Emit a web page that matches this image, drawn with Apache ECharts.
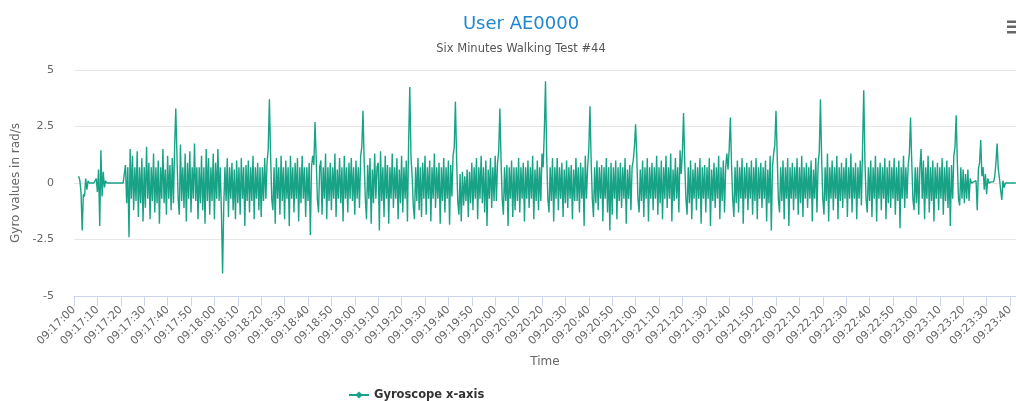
<!DOCTYPE html>
<html>
<head>
<meta charset="utf-8">
<script src="https://cdn.jsdelivr.net/npm/echarts@6/dist/echarts.min.js"></script>
<style>
html,body{margin:0;padding:0;background:#fff;}
#chart{width:1016px;height:401px;}
</style>
</head>
<body>
<div id="chart"></div>
<script>
const titleText = 'User AE0000';
const subtitleText = 'Six Minutes Walking Test #44';
const seriesName = 'Gyroscope x-axis';
const xAxisName = 'Time';
const yAxisName = 'Gyro values in rad/s';
const startClock = [9, 17, 0];      // 09:17:00
const sampleStepSeconds = 0.5;      // one value every half second
const xTickSeconds = 10;
const xMaxSeconds = 402.5;
const yMin = -5, yMax = 5, yStep = 2.5;

// Gyroscope x-axis readings (rad/s), one per 0.5 s from 09:17:00
const gyroX = [
  null,null,null,null,0.3,0.1,-0.4,-2.1,-0.5,-0.6,0.2,-0.3,0.1,0,0,0,0,0,0,0.2,
  -0.4,0.6,-1.9,1.45,-0.6,0.5,-0.2,0.1,0,0,0,0,0,0,0,0,0,0,0,0,
  0,0,0,0,0.8,-0.9,0.7,-2.4,1.5,-0.7,1.2,-1.2,0.7,-0.8,1.4,-1.5,0.7,-0.9,1.1,-1.7,
  0.7,-1.1,1.6,-0.7,0.9,-1.6,0.7,-0.8,1.3,-1.3,0.7,-0.9,1.0,-1.8,0.7,-0.7,1.5,-0.9,0.6,-1.4,
  1.2,-0.7,0.8,-1.2,1.1,-0.9,1.6,3.3,1.2,-0.7,-1.4,1.7,-0.8,0.7,-1.1,1.3,-1.7,0.9,-0.7,1.4,
  -1.3,0.7,-0.7,1.75,-0.8,0.7,-1.6,0.7,-0.9,1.2,-1.2,0.7,-1.8,1.5,-0.8,1.1,-1.4,0.7,-0.8,1.3,
  -1.6,0.9,-0.7,1.5,-0.8,0.7,-1.3,-4.0,-1.0,0.7,-0.8,1.1,-1.5,0.7,-0.7,0.9,-1.2,0.6,-1.6,1.0,
  -0.9,0.7,-1.4,1.1,-0.7,0.7,-1.9,0.8,-0.8,1.0,-1.3,0.7,-0.8,1.2,-1.6,0.7,-0.7,0.9,-1.2,0.7,
  -1.5,0.7,-0.8,1.1,-0.7,0.9,1.5,3.7,1.3,-0.7,-1.2,0.7,-1.8,1.1,-0.7,0.7,-1.4,1.2,-0.8,0.7,
  -1.6,1.0,-0.7,0.7,-1.9,1.2,-0.7,0.7,-1.3,0.9,-0.7,1.1,-1.7,0.7,-0.9,1.2,-0.7,0.7,-1.5,0.7,
  -0.8,0.9,-2.3,0.7,1.2,0.8,2.7,1.1,-0.7,-1.3,0.7,1.0,-1.4,0.7,-0.7,1.3,-1.6,0.7,-0.8,0.9,
  -1.2,0.7,-0.7,1.3,-1.5,0.6,-0.7,1.1,-0.9,0.7,-1.7,1.2,-0.7,0.7,-1.3,0.9,-0.7,1.1,-0.8,0.7,
  -1.4,1.0,-0.7,0.7,-1.1,1.2,1.6,3.2,1.0,-0.7,-1.6,0.8,-0.7,1.1,-1.8,0.6,-0.9,1.3,-0.7,0.7,
  0.9,-2.1,1.4,-0.8,0.7,-1.5,1.2,-0.7,0.8,-1.8,0.7,-0.7,1.3,-1.1,0.7,-0.7,1.1,-1.6,0.6,-0.9,
  1.2,-1.3,0.7,-0.7,1.0,-1.7,1.8,4.25,1.2,0.3,-1.0,-1.6,0.7,-0.8,1.1,-1.2,0.7,-1.5,0.9,-0.7,
  1.2,-1.4,0.7,-0.7,1.0,-1.7,0.7,-0.7,1.3,-1.1,0.7,-0.7,0.9,-1.8,0.7,-0.8,1.1,-1.3,0.7,-0.7,
  1.0,-1.85,0.8,-0.6,1.2,1.6,3.6,1.1,-0.8,-1.4,0.4,-1.7,0.5,-1.0,0.3,-0.8,0.6,-1.5,0.5,-0.9,
  0.9,-1.2,0.7,-0.7,1.1,-1.6,0.7,-0.7,1.2,-0.9,0.7,-1.3,1.0,-1.9,0.6,-0.7,1.1,-1.1,0.7,-0.8,
  1.2,-0.8,0.9,1.4,3.3,1.0,-0.7,-1.4,0.7,-0.8,0.8,-1.9,0.7,-0.7,1.0,-1.5,0.7,-1.2,0.7,-0.8,
  1.1,-1.3,0.7,-0.7,0.9,-1.7,0.7,-0.7,1.0,-1.1,0.7,-0.7,1.2,-1.6,0.6,-0.8,1.0,-1.2,0.7,-0.8,
  1.3,0.7,2.3,4.5,1.2,-0.7,-1.3,0.7,-0.8,1.1,-1.7,0.7,-0.7,1.1,-1.2,0.7,-0.7,0.9,-1.5,0.6,
  -0.9,1.0,-1.1,0.7,-0.7,0.8,-1.6,0.6,-0.8,1.1,-0.8,0.7,-1.3,0.9,-0.7,0.7,-1.9,1.2,-0.7,0.7,
  1.5,3.4,1.0,-0.7,-1.5,0.7,-0.9,1.0,-1.2,0.7,-0.7,0.8,-1.7,0.7,-0.7,1.1,-1.3,0.7,-2.1,0.9,
  -1.4,0.7,-0.7,1.0,-1.6,0.7,-0.8,0.9,-1.1,0.7,-0.7,1.1,-1.8,0.6,-0.7,0.8,-1.2,0.7,1.0,1.6,
  2.6,1.2,-0.7,-1.3,0.6,-0.8,1.0,-1.5,0.7,-0.7,1.1,-1.7,0.7,-0.7,0.9,-1.2,0.7,-0.7,1.2,-1.4,
  0.7,-0.9,1.0,-1.6,0.7,-0.7,1.2,-1.1,0.7,-0.7,1.3,-1.7,0.6,-0.8,1.1,-0.7,0.7,-1.3,1.45,0.4,
  1.4,3.1,0.9,-0.7,-1.4,0.7,-0.9,1.0,-1.6,0.6,-0.7,0.9,-1.2,0.7,-0.7,1.1,-1.8,0.7,-0.7,0.8,
  -1.3,0.7,-0.7,1.1,-1.9,0.6,-0.8,0.9,-1.1,0.7,-0.7,1.2,-1.6,0.7,-0.8,1.0,-1.3,0.7,1.3,0.6,
  1.5,2.9,0.8,-0.7,-1.5,0.7,-0.9,1.0,-1.3,0.7,-0.7,1.1,-1.8,0.7,-0.7,0.9,-1.2,0.7,-0.7,1.0,
  -1.4,0.7,-0.8,1.1,-1.6,0.7,-0.7,0.9,-1.1,0.7,-0.7,1.0,-1.7,0.6,-0.9,1.2,-2.1,0.7,1.3,1.7,
  3.2,1.3,-0.7,-1.3,0.7,-0.8,1.0,-1.6,0.7,-0.7,1.1,-1.9,0.7,-0.7,0.9,-1.2,0.7,-0.7,1.1,-1.4,
  0.7,-0.9,1.2,-1.5,0.7,-0.7,0.9,-1.1,0.7,-0.7,1.0,-1.7,0.6,-0.7,1.1,-1.3,0.8,1.4,3.7,1.1,
  -0.7,-1.4,0.7,-0.8,1.3,-1.7,0.7,-0.7,1.0,-1.2,0.7,-0.7,1.2,-1.6,0.7,-0.8,0.9,-1.1,0.7,-0.7,
  1.1,-1.5,0.7,-0.7,1.3,-1.3,0.7,-0.7,0.9,-1.6,0.7,-0.7,1.0,-1.0,1.6,4.1,1.0,-0.7,-1.3,0.7,
  -0.8,1.0,-1.5,0.7,-0.7,1.2,-1.7,0.7,-0.7,0.9,-1.2,0.7,-0.7,1.1,-1.6,0.7,-0.9,1.0,-1.1,0.7,
  -0.7,1.1,-1.4,0.7,-0.8,1.0,-2.0,0.7,-0.7,1.2,-1.1,0.7,-0.7,0.8,1.3,2.9,1.0,-0.7,-1.2,0.7,
  -0.9,0.7,-1.4,0.7,1.5,-0.7,1.0,-1.6,0.7,-0.7,1.2,-1.3,0.7,-0.8,1.0,-1.7,0.7,-0.7,0.9,-1.2,
  0.7,-0.7,1.1,-1.4,0.7,-0.8,1.0,-1.1,0.7,-1.9,0.8,-0.7,1.2,1.6,3.0,0.9,-0.7,-1.0,0.7,-0.7,
  0.6,-0.9,0.4,-0.7,0.6,-0.8,0.2,0.0,0.05,0.05,0.0,0.1,-1.2,0.6,0.9,1.9,0.3,0.7,-0.3,0.4,
  -0.5,0.2,0.0,0.05,0.05,0.0,0.05,0.3,0.9,1.75,0.6,0.2,-0.3,-0.75,0.1,-0.2,0,0,0,0,
  0,0,0,0,0,0
];

function pad(n){ return (n < 10 ? '0' : '') + n; }
function clockLabel(sec){
  const total = startClock[0]*3600 + startClock[1]*60 + startClock[2] + Math.round(sec);
  const h = Math.floor(total/3600), m = Math.floor((total%3600)/60), s = total%60;
  return pad(h)+':'+pad(m)+':'+pad(s);
}

const seriesData = gyroX.map((v, i) => [i*sampleStepSeconds, v]);
const FONT = 'DejaVu Sans';

const chart = echarts.init(document.getElementById('chart'), null, {renderer:'canvas'});
chart.setOption({
  animation: false,
  backgroundColor: '#ffffff',
  textStyle: { fontFamily: FONT },
  title: [
    { text: titleText, left: 516, top: 10, textAlign: 'center',
      textStyle: { color: '#1f87cc', fontSize: 18, fontWeight: 'normal', fontFamily: FONT } },
    { text: subtitleText, left: 516, top: 38, textAlign: 'center',
      textStyle: { color: '#555555', fontSize: 11.5, fontWeight: 'normal', fontFamily: FONT } }
  ],
  legend: {
    left: 343, top: 384, itemWidth: 20, itemHeight: 9,
    data: [seriesName],
    textStyle: { color: '#333333', fontSize: 11.5, fontWeight: 'bold', fontFamily: FONT }
  },
  grid: { left: 74, right: 0, top: 70, bottom: 105, containLabel: false },
  xAxis: {
    type: 'value', min: 0, max: xMaxSeconds, interval: xTickSeconds,
    name: xAxisName, nameLocation: 'middle', nameGap: 60,
    nameTextStyle: { color: '#666666', fontSize: 12, fontFamily: FONT },
    axisLine: { show: true, onZero: false, lineStyle: { color: '#ccd6eb', width: 1 } },
    axisTick: { show: true, length: 10, lineStyle: { color: '#ccd6eb' } },
    splitLine: { show: false },
    axisLabel: {
      rotate: 45, margin: 12, color: '#666666', fontSize: 11, fontFamily: FONT,
      showMaxLabel: false,
      formatter: v => (Math.abs(v % xTickSeconds) < 1e-6 ? clockLabel(v) : '')
    }
  },
  yAxis: {
    type: 'value', min: yMin, max: yMax, interval: yStep,
    name: yAxisName, nameLocation: 'middle', nameGap: 52, nameRotate: 90,
    nameTextStyle: { color: '#666666', fontSize: 12, fontFamily: FONT },
    axisLine: { show: false }, axisTick: { show: false },
    splitLine: { lineStyle: { color: '#e6e6e6', width: 1 } },
    axisLabel: { margin: 20, color: '#666666', fontSize: 11, fontFamily: FONT,
      formatter: v => String(v) }
  },
  series: [{
    name: seriesName, type: 'line', data: seriesData,
    symbol: 'diamond', symbolSize: 8, showSymbol: false,
    itemStyle: { color: '#18a386' },
    lineStyle: { color: '#18a386', width: 1.4, join: 'bevel' },
    connectNulls: false
  }],
  graphic: [
    { type: 'rect', shape: { x: 1007, y: 20.5, width: 12, height: 2.5 }, style: { fill: '#666666' } },
    { type: 'rect', shape: { x: 1007, y: 25.5, width: 12, height: 2.5 }, style: { fill: '#666666' } },
    { type: 'rect', shape: { x: 1007, y: 31, width: 12, height: 2.5 }, style: { fill: '#666666' } }
  ]
});
</script>
</body>
</html>
